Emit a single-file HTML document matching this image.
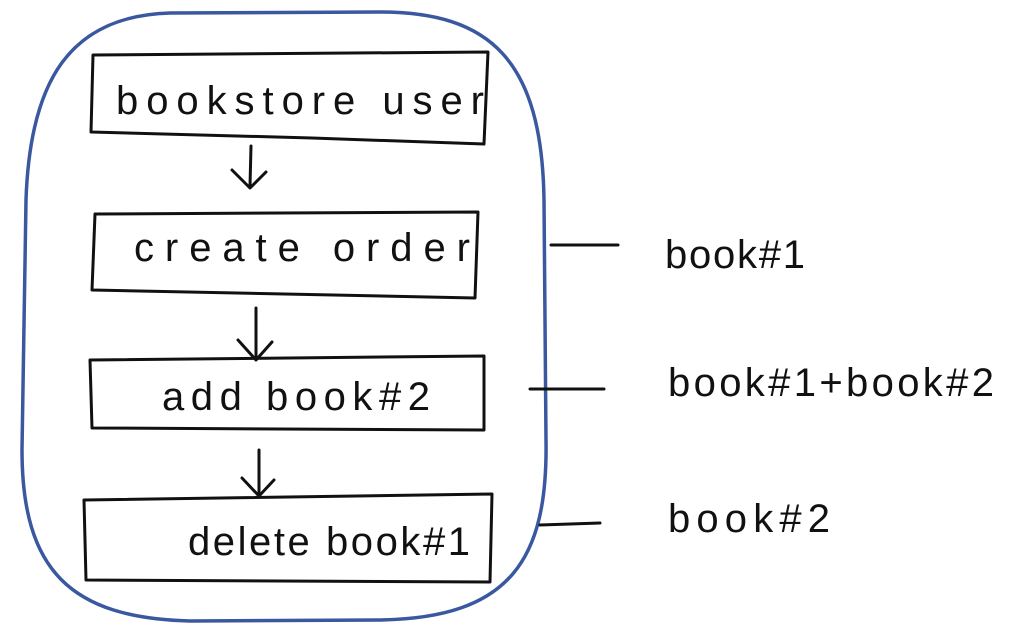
<!DOCTYPE html>
<html><head><meta charset="utf-8"><style>
html,body{margin:0;padding:0;background:#fff;}
svg{display:block}
text{font-family:"Liberation Sans",sans-serif;fill:#111;}
</style></head><body>
<svg width="1017" height="634" viewBox="0 0 1017 634" xmlns="http://www.w3.org/2000/svg">
<path d="M170 13 C70 16 30 80 26 200 L22 450 C22 570 70 618 190 621 L380 620 C510 618 548 560 546 440 L544 200 C542 60 490 12 380 12 Z" fill="none" stroke="#3a58a0" stroke-width="3.5"/>
<g fill="none" stroke="#111" stroke-width="3" stroke-linejoin="round" stroke-linecap="round">
<path d="M93 55 L488 52 L484 144 L312 138 L91 132 Z"/>
<path d="M95 214 L478 212 L475 298 L92 290 Z"/>
<path d="M90 360 L484 356 L484 430 L92 428 Z"/>
<path d="M84 500 L492 494 L490 582 L86 580 Z"/>
<path d="M251 146 L250 186 M232 170 L250 188 L266 172"/>
<path d="M256 308 L256 356 M238 340 L256 360 L272 342"/>
<path d="M259 450 L259 494 M242 478 L259 496 L274 480"/>
<path d="M551 245 L618 245"/>
<path d="M530 389 L604 389"/>
<path d="M540 525 L600 523"/>
</g>
<text x="116" y="114" font-size="40" textLength="368" lengthAdjust="spacing">bookstore user</text>
<text x="134" y="261" font-size="40" textLength="336" lengthAdjust="spacing">create order</text>
<text x="162" y="410" font-size="40" textLength="268" lengthAdjust="spacing">add book#2</text>
<text x="188" y="555" font-size="40" textLength="282" lengthAdjust="spacing">delete book#1</text>
<text x="665" y="268" font-size="40" textLength="140" lengthAdjust="spacing">book#1</text>
<text x="668" y="396" font-size="40" textLength="326" lengthAdjust="spacing">book#1+book#2</text>
<text x="668" y="532" font-size="40" textLength="162" lengthAdjust="spacing">book#2</text>
</svg>
</body></html>
